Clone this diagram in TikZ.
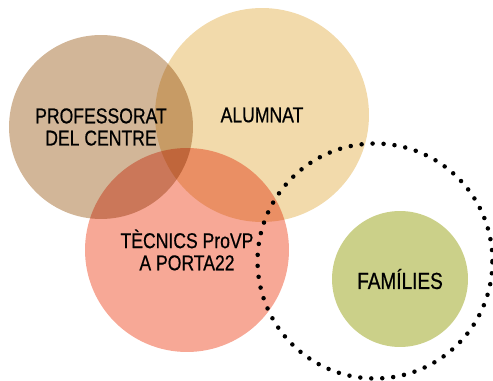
\documentclass[tikz,border=0pt]{standalone}
\usepackage{fontspec}
\setmainfont{Liberation Sans}[FakeStretch=0.82, FakeBold=0.6]
\usetikzlibrary{shapes,positioning}
\definecolor{profcolor}{RGB}{210, 182, 152}
\definecolor{alumcolor}{RGB}{242, 218, 171}
\definecolor{teccolor}{RGB}{247, 168, 150}
\definecolor{famcolor}{RGB}{203, 208, 137}

\begin{document}
\begin{tikzpicture}[x=0.02cm, y=-0.02cm,
                group/.style={circle, inner sep=0pt, align=center, blend mode=multiply,
                              font=\fontsize{12.2}{12.6}\selectfont},
                ring/.style={circle, draw, line width=0.09cm, line cap=round,
                             dash pattern=on 0pt off 0.22cm}]

                \useasboundingbox (0,0) rectangle (493,381);

                % Professorat
                \node[group, fill=profcolor, minimum size=3.68cm] (prof) at (101,127) {PROFESSORAT\\DEL CENTRE};

                % Alumnat
                \node[group, fill=alumcolor, minimum size=4.28cm] (alum) at (262,115) {ALUMNAT};

                % Tecnics
                \node[group, fill=teccolor, minimum size=4.08cm] (tec) at (187,250) {TÈCNICS ProVP\\A PORTA22};

                % Families
                \node[group, fill=famcolor, minimum size=2.72cm,
                      font=\fontsize{13.2}{13.5}\selectfont] (fam) at (400,279) {FAMÍLIES};

                % Entorn
                \node[ring, minimum size=4.7cm] (entorn) at (375,261) {};

            \end{tikzpicture}
\end{document}
